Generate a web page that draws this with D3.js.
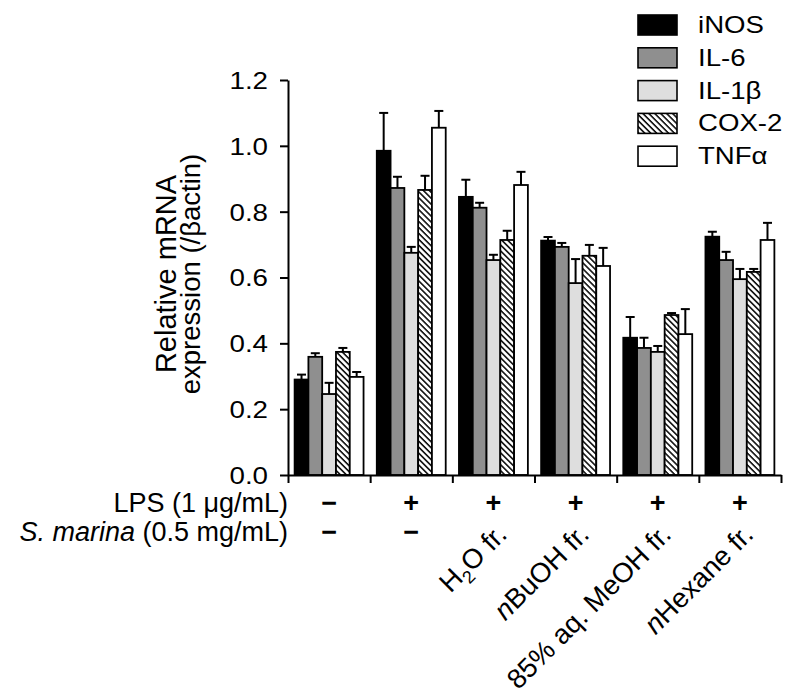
<!DOCTYPE html>
<html>
<head>
<meta charset="utf-8">
<script src="https://cdn.jsdelivr.net/npm/d3@7"></script>
<style>
  body { margin: 0; background: #fff; }
  text { font-family: "Liberation Sans", Arial, sans-serif; fill: #000; }
</style>
</head>
<body>
<div id="chart"></div>
<script>
// relative mRNA expression, grouped bars with error bars
var groups = ["control", "LPS", "H2O", "nBuOH", "MeOH", "nHexane"];
var series = ["iNOS", "IL-6", "IL-1\u03b2", "COX-2", "TNF\u03b1"];

var iNOS = [0.29, 0.985, 0.845, 0.712, 0.417, 0.724];
var iNOSErr = [0.015, 0.115, 0.052, 0.011, 0.063, 0.015];
var IL6 = [0.359, 0.872, 0.812, 0.693, 0.386, 0.653];
var IL6Err = [0.011, 0.034, 0.015, 0.012, 0.031, 0.025];
var IL1b = [0.246, 0.675, 0.653, 0.583, 0.374, 0.595];
var IL1bErr = [0.034, 0.018, 0.016, 0.073, 0.018, 0.031];
var COX2 = [0.374, 0.866, 0.714, 0.666, 0.486, 0.617];
var COX2Err = [0.012, 0.043, 0.028, 0.033, 0.006, 0.009];
var TNFa = [0.298, 1.055, 0.881, 0.635, 0.428, 0.714];
var TNFaErr = [0.015, 0.051, 0.040, 0.055, 0.076, 0.052];

var yTicks = [0, 0.2, 0.4, 0.6, 0.8, 1.0, 1.2];
var lpsSigns = ["\u2212", "+", "+", "+", "+", "+"];
var marinaSigns = ["\u2212", "\u2212", null, null, null, null];
// fraction labels: [text, style] pieces
var fracLabels = [null, null,
  [["H", ""], ["2", "sub"], ["O fr.", ""]],
  [["n", "it"], ["BuOH fr.", ""]],
  [["85% aq. MeOH fr.", ""]],
  [["n", "it"], ["Hexane fr.", ""]]
];

(function () {
var values = [iNOS, IL6, IL1b, COX2, TNFa];
var errors = [iNOSErr, IL6Err, IL1bErr, COX2Err, TNFaErr];
var fills = ["#000000", "#8f8f8f", "#dedede", "url(#hatch)", "#ffffff"];

var width = 797, height = 699;
var left = 288, right = 781, plotTop = 80, bottom = 475;

var svg = d3.select("#chart").append("svg")
    .attr("width", width)
    .attr("height", height);

var defs = svg.append("defs");
var pat = defs.append("pattern")
    .attr("id", "hatch")
    .attr("patternUnits", "userSpaceOnUse")
    .attr("width", 4.2)
    .attr("height", 4.2)
    .attr("patternTransform", "rotate(45)");
pat.append("rect").attr("width", 4.2).attr("height", 4.2).attr("fill", "#fff");
pat.append("line")
    .attr("x1", 0).attr("y1", 0.8).attr("x2", 4.2).attr("y2", 0.8)
    .attr("stroke", "#000").attr("stroke-width", 1.5);

var y = d3.scaleLinear().domain([0, 1.2]).range([bottom, plotTop]);
var xAxisScale = d3.scaleLinear().domain([0, groups.length]).range([left, right]);
var x0 = d3.scaleBand().domain(groups).range([left, right]).padding(0);
var x1 = d3.scaleBand().domain(series).range([0, x0.bandwidth()])
    .paddingInner(0).paddingOuter(0.48);

// bars
var data = [];
groups.forEach(function(g, gi) {
  series.forEach(function(s, si) {
    data.push({group: g, series: s, si: si, value: values[si][gi], err: errors[si][gi]});
  });
});

var bar = svg.append("g").selectAll("g")
    .data(data)
  .enter().append("g")
    .attr("transform", function(d) { return "translate(" + (x0(d.group) + x1(d.series)) + ",0)"; });

var bw = x1.bandwidth();

bar.append("line")
    .attr("x1", bw / 2).attr("x2", bw / 2)
    .attr("y1", function(d) { return y(d.value); })
    .attr("y2", function(d) { return y(d.value + d.err); })
    .attr("stroke", "#000").attr("stroke-width", 2);

bar.append("line")
    .attr("x1", bw / 2 - 4.5).attr("x2", bw / 2 + 4.5)
    .attr("y1", function(d) { return y(d.value + d.err); })
    .attr("y2", function(d) { return y(d.value + d.err); })
    .attr("stroke", "#000").attr("stroke-width", 2);

bar.append("rect")
    .attr("x", 0)
    .attr("width", bw)
    .attr("y", function(d) { return y(d.value); })
    .attr("height", function(d) { return y(0) - y(d.value); })
    .attr("fill", function(d) { return fills[d.si]; })
    .attr("stroke", "#000")
    .attr("stroke-width", 1.8);

// axes
var yAxis = d3.axisLeft(y)
    .tickValues(yTicks)
    .tickFormat(d3.format(".1f"))
    .tickSize(8)
    .tickSizeOuter(0);

var yg = svg.append("g")
    .attr("transform", "translate(" + left + ",0)")
    .call(yAxis);
yg.select(".domain").attr("stroke-width", 2);
yg.selectAll(".tick line").attr("stroke-width", 2);
yg.selectAll(".tick text")
    .attr("font-family", "Liberation Sans, Arial, sans-serif")
    .attr("font-size", 23.5)
    .attr("x", -20 / 1.18)
    .attr("dy", "0.36em")
    .attr("transform", "scale(1.18,1)");

var xAxis = d3.axisBottom(xAxisScale)
    .tickValues(d3.range(groups.length + 1))
    .tickFormat("")
    .tickSize(8)
    .tickSizeOuter(0);

var xg = svg.append("g")
    .attr("transform", "translate(0," + bottom + ")")
    .call(xAxis);
xg.select(".domain").attr("stroke-width", 2);
xg.selectAll(".tick line").attr("stroke-width", 2);

// y title
var yt = svg.append("text")
    .attr("transform", "translate(176,274) rotate(-90)")
    .attr("text-anchor", "middle")
    .attr("font-size", 29);
yt.append("tspan").attr("x", 0).attr("y", 0).text("Relative mRNA");
yt.append("tspan").attr("x", 0).attr("y", 24).attr("font-size", 27.5).text("expression (/\u03b2actin)");

// treatment rows
var rowLpsY = 512, rowMarY = 541;
svg.append("text")
    .attr("x", left).attr("y", rowLpsY)
    .attr("text-anchor", "end")
    .attr("font-size", 27)
    .text("LPS (1 \u03bcg/mL)");

var mt = svg.append("text")
    .attr("x", left).attr("y", rowMarY)
    .attr("text-anchor", "end")
    .attr("font-size", 27);
mt.append("tspan").attr("font-style", "italic").text("S. marina");
mt.append("tspan").text(" (0.5 mg/mL)");

svg.append("g").selectAll("text")
    .data(lpsSigns)
  .enter().append("text")
    .attr("x", function(d, i) { return x0(groups[i]) + x0.bandwidth() / 2; })
    .attr("y", rowLpsY)
    .attr("text-anchor", "middle")
    .attr("font-size", 27)
    .attr("font-weight", "bold")
    .text(function(d) { return d; });

svg.append("g").selectAll("text")
    .data(marinaSigns.filter(function(d) { return d; }))
  .enter().append("text")
    .attr("x", function(d, i) { return x0(groups[i]) + x0.bandwidth() / 2; })
    .attr("y", rowMarY)
    .attr("text-anchor", "middle")
    .attr("font-size", 27)
    .attr("font-weight", "bold")
    .text(function(d) { return d; });

fracLabels.forEach(function(parts, i) {
  if (!parts) return;
  var cx = x0(groups[i]) + x0.bandwidth() / 2 + 15;
  var t = svg.append("text")
      .attr("transform", "translate(" + cx + ",536) rotate(-45)")
      .attr("text-anchor", "end")
      .attr("font-size", 27.5);
  var shifted = false;
  parts.forEach(function(p) {
    var ts = t.append("tspan").text(p[0]);
    if (p[1] === "it") ts.attr("font-style", "italic");
    if (p[1] === "sub") { ts.attr("font-size", 18).attr("dy", 7); shifted = true; }
    else if (shifted) { ts.attr("dy", -7); shifted = false; }
  });
});

// legend
var legend = svg.append("g").selectAll("g")
    .data(series)
  .enter().append("g")
    .attr("transform", function(d, i) { return "translate(638," + (15 + i * 32.8) + ")"; });

legend.append("rect")
    .attr("width", 39).attr("height", 20)
    .attr("fill", function(d, i) { return fills[i]; })
    .attr("stroke", "#000").attr("stroke-width", 1.6);

legend.append("text")
    .attr("transform", "translate(60,18) scale(1.2,1)")
    .attr("font-size", 23)
    .text(function(d) { return d; });
})();
</script>
</body>
</html>
